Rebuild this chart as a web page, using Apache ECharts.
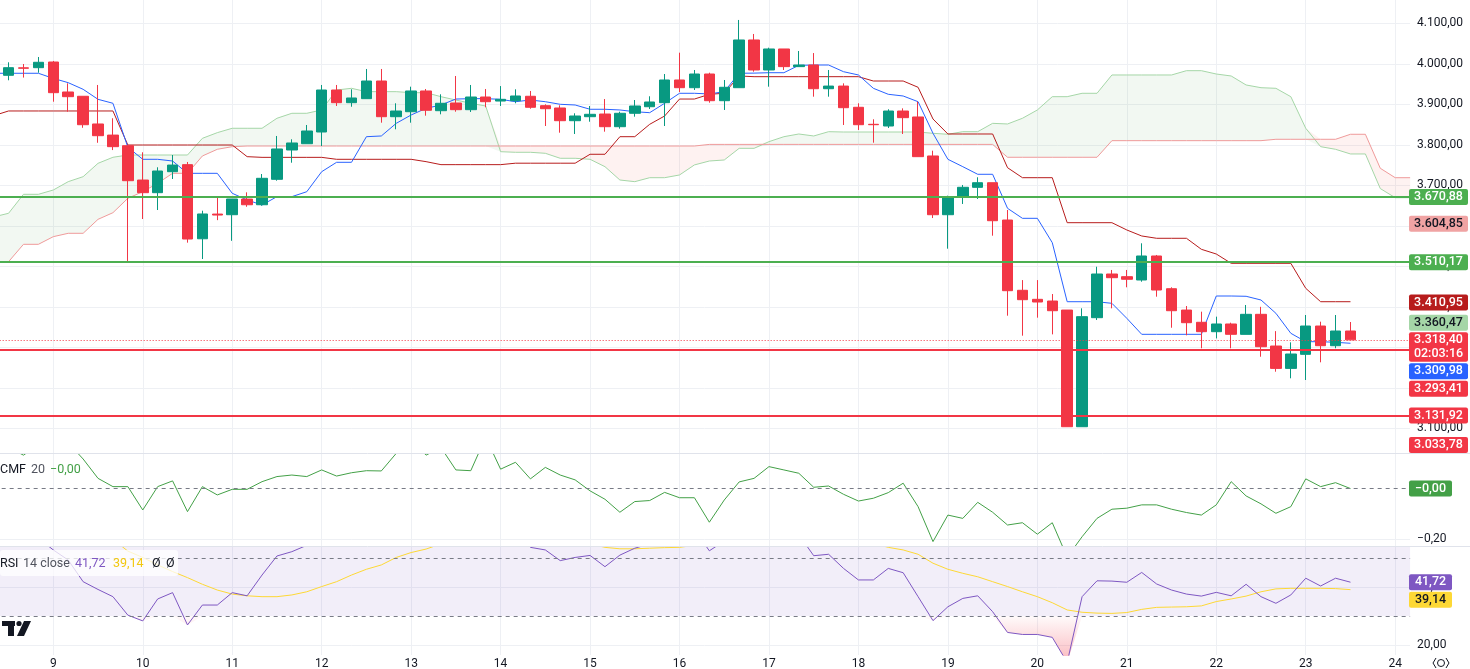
<!DOCTYPE html>
<html>
<head>
<meta charset="utf-8">
<script src="https://cdn.jsdelivr.net/npm/echarts@6/dist/echarts.min.js"></script>
<style>
html, body { margin: 0; padding: 0; background: #fff; }
#chart { width: 1470px; height: 669px; }
</style>
</head>
<body>
<div id="chart"></div>
<script>
// 4h candles, index k: k = 0 is day 9 00:00, 6 candles per day
const dayLabels = ['9', '10', '11', '12', '13', '14', '15', '16', '17', '18', '19', '20', '21', '22', '23', '24']
const perDay = 6

// candles from k = -3 to k = 87
const candleFirst = -3
const opens = [
  3971.6, 3990, 3990.4,
  4004.4, 3930.4, 3919.8, 3851.4, 3824, 3797.8,
  3713, 3681.8, 3733.6, 3751, 3568, 3629,
  3627.4, 3666, 3652, 3714.8, 3787.2, 3802.7,
  3831.6, 3935.3, 3904, 3913.9, 3957.5, 3869.4,
  3881.7, 3932.9, 3884.2, 3903.2, 3886.7, 3918,
  3908, 3908.9, 3919.8, 3896.6, 3890.9, 3859.5,
  3869.4, 3876, 3844.7, 3877.8, 3894, 3904,
  3960, 3941, 3974.8, 3908.9, 3941, 4058.8,
  3984.7, 4036.6, 3993, 3997, 3938.5, 3945,
  3892.6, 3850.6, 3846.4, 3883.4, 3868.7, 3772.4,
  3627.4, 3670.4, 3695, 3706.4, 3614.3, 3440.8,
  3418.5, 3414.3, 3392, 3104, 3373.2, 3481,
  3474.4, 3466.2, 3525.5, 3444.7, 3392, 3361.8,
  3338.6, 3357.6, 3332, 3381.5, 3303.2, 3248,
  3282.7, 3352.6, 3304, 3340.3
]
const closes = [
  3990.4, 3989, 4003.7,
  3928.7, 3918.8, 3849.6, 3822.5, 3795.4, 3711.4,
  3681.8, 3735.3, 3750, 3567.4, 3629.2, 3626.6,
  3666.2, 3652, 3717.3, 3789.7, 3804.5, 3834.1,
  3935.3, 3904, 3915.6, 3957.5, 3869.4, 3883.4,
  3932.9, 3885.2, 3902.5, 3886.7, 3918, 3906.4,
  3912.3, 3920.5, 3892.6, 3889.1, 3859.5, 3871.1,
  3875.3, 3844.7, 3877.8, 3895.8, 3905.7, 3960,
  3941, 3974.8, 3908.9, 3942, 4058.8, 3984.7,
  4036.6, 3993, 3997, 3938.5, 3945, 3891.6,
  3849.6, 3849.6, 3883.4, 3867, 3770.7, 3627.4,
  3672, 3695.1, 3706.4, 3612.6, 3439.8, 3417.6,
  3411.9, 3390.4, 3104, 3375.7, 3481, 3471.9,
  3468, 3525.5, 3441.5, 3390.4, 3360.8, 3338.6,
  3357.6, 3332.1, 3381.5, 3301.5, 3248, 3283.5,
  3352.6, 3304, 3340.3, 3318.4
]
const lows = [
  3959.3, 3966, 3978,
  3906.4, 3881.7, 3842, 3805, 3787, 3511.4,
  3616.8, 3639, 3715.6, 3558.4, 3518, 3614,
  3563, 3647, 3649.7, 3711.4, 3755.8, 3802.7,
  3797, 3895.8, 3894, 3913.9, 3854.6, 3838.3,
  3854.6, 3871.9, 3875.3, 3881.7, 3881, 3892.6,
  3895.8, 3902.5, 3889.1, 3846.4, 3829.9, 3826.7,
  3857, 3832.4, 3839.8, 3869.4, 3888.4, 3846.4,
  3930.4, 3935.3, 3904, 3886, 3941, 3980.5,
  3943.5, 3984.7, 3993, 3918.8, 3918.8, 3848.9,
  3836.6, 3805.2, 3841.5, 3826.7, 3770.7, 3619.2,
  3543.5, 3653.9, 3666.2, 3575.6, 3378.1, 3328.7,
  3373.2, 3332, 3104, 3104, 3367.4, 3396.3,
  3448.2, 3462, 3425, 3348.4, 3329.6, 3297.6,
  3322, 3297.6, 3332, 3276.8, 3239.8, 3223.5,
  3219.3, 3263, 3297.6, 3318.4
]
const highs = [
  4003.7, 3999.5, 4016.8,
  4007, 3951.8, 3919.8, 3947.7, 3865.5, 3797.8,
  3781.5, 3744.5, 3774.8, 3757.6, 3637.3, 3672,
  3666.2, 3682.7, 3727.9, 3821.8, 3813.6, 3848.9,
  3947.7, 3947.7, 3937, 3987.2, 3987.2, 3902.5,
  3943.5, 3937.8, 3924.7, 3969.9, 3947.7, 3937.8,
  3945, 3937, 3932.9, 3900, 3897.5, 3877.8,
  3895.8, 3913, 3881.7, 3910.6, 3919.8, 3974.8,
  4027.4, 3984.7, 3978, 3960, 4108.2, 4073.6,
  4039.8, 4036.6, 4031.6, 4026.5, 3984.7, 3951.8,
  3902.5, 3863, 3887.7, 3890, 3906.4, 3785.5,
  3674.4, 3700.8, 3719.8, 3706.4, 3639, 3466,
  3466, 3431.6, 3392, 3396.3, 3499, 3491,
  3491, 3556.8, 3528, 3448.2, 3402, 3388,
  3375.7, 3360.8, 3404.5, 3400, 3340, 3312.3,
  3379.8, 3363.3, 3379.8, 3362.5
]

// ichimoku lines, k = -4 .. 87
const lineFirst = -4
const tenkan = [
  3976.6, 3976.6, 3976.6, 3976.6,
  3964, 3953.4, 3937, 3912.3, 3902.5, 3794,
  3764.2, 3764.2, 3760, 3729.6, 3729.6, 3729.6,
  3680.3, 3663.8, 3651.4, 3672, 3672, 3684.2,
  3733.6, 3756.8, 3756.8, 3820, 3821.8, 3853,
  3873.6, 3890, 3898.3, 3913, 3913.9, 3913.9,
  3912.3, 3906.4, 3910.6, 3906.4, 3900, 3898.3,
  3887.7, 3887.7, 3886, 3881.7, 3879.3, 3902.5,
  3927.2, 3927.2, 3925.5, 3931.2, 3976.6, 3977,
  3978, 3978, 3996.2, 3997, 3997, 3980.5,
  3972.4, 3939.5, 3924.7, 3920.5, 3906.4, 3828.4,
  3764.2, 3746, 3727.2, 3727.2, 3643.2, 3618.5,
  3618.5, 3558.4, 3412.6, 3412.6, 3412.6, 3408.6,
  3371.6, 3332.1, 3332.1, 3332.1, 3332.1, 3332.1,
  3426.7, 3426.7, 3426, 3416.8, 3384, 3334.6,
  3313.9, 3313.9, 3312.4, 3310
]
const kijun = [
  3872, 3883.5, 3883.5, 3883.5,
  3883.5, 3883.5, 3883.5, 3883.5, 3883.5, 3799.5,
  3799.5, 3799.5, 3799.5, 3799.5, 3799.5, 3799.5,
  3799.5, 3770.7, 3769, 3769, 3769, 3769,
  3769, 3764.2, 3764.2, 3764.2, 3764.2, 3764.2,
  3764.2, 3758.4, 3751, 3751, 3751, 3751,
  3751, 3754.6, 3754.6, 3754.6, 3754.6, 3754.6,
  3776.6, 3776.6, 3820, 3820, 3850.6, 3871.1,
  3913, 3913, 3924.7, 3927.2, 3969.9, 3968.2,
  3968.2, 3968.2, 3968.2, 3968.2, 3968.2, 3968.2,
  3968.2, 3957.5, 3957.5, 3957.5, 3942, 3863.7,
  3826.7, 3826.7, 3826.7, 3826.7, 3743.5, 3718.8,
  3718.8, 3718.8, 3607.7, 3607.7, 3607.7, 3607.7,
  3589.7, 3574.9, 3569.2, 3569.2, 3569.2, 3542,
  3530.4, 3507.4, 3507.4, 3507.4, 3507.4, 3507.4,
  3445.7, 3412.6, 3412.6, 3412.6
]
// cloud spans, k = -4 .. 91
const spanA = [
  3622, 3630.9, 3677.8, 3677.8,
  3688.4, 3709, 3721.3, 3754.3, 3769.2, 3774.8,
  3774.8, 3774.8, 3774.8, 3774.8, 3816, 3830,
  3840.8, 3840.8, 3840.8, 3865.5, 3877.8, 3877.8,
  3886, 3935.3, 3939.5, 3931.2, 3931.2, 3931.2,
  3928.7, 3928.7, 3918.8, 3910.6, 3902.5, 3895.8,
  3783, 3781.5, 3781.5, 3779, 3766.7, 3766.7,
  3764.2, 3746, 3713.1, 3709, 3718.8, 3718.8,
  3725.5, 3750.3, 3760, 3762.5, 3791.3, 3791.3,
  3807.8, 3820, 3826.7, 3821.8, 3832.4, 3831.6,
  3831.6, 3831.6, 3831.6, 3831.6, 3831.6, 3828.4,
  3826, 3832.4, 3832.4, 3853, 3851.4, 3865.5,
  3886, 3918.8, 3918.8, 3927.2, 3927.2, 3972.4,
  3972.4, 3972.4, 3972.4, 3972.4, 3983, 3983,
  3974.8, 3969.9, 3947.7, 3941, 3939.5, 3918.8,
  3840.8, 3795.4, 3788.9, 3777.4, 3777.4, 3692,
  3669.4, 3669.4
]
const spanB = [
  3511, 3511.4, 3554.3, 3554.3,
  3573.2, 3581.5, 3581.5, 3616, 3632.4, 3667.9,
  3684.2, 3705, 3729.6, 3729.6, 3772.4, 3788.9,
  3795.4, 3797, 3797, 3797, 3797, 3797,
  3797, 3797, 3797, 3797, 3797, 3797,
  3797, 3797, 3797, 3797, 3797, 3797,
  3797, 3797, 3797, 3797, 3797, 3797,
  3797, 3797, 3797, 3797, 3797, 3797,
  3797, 3797, 3801, 3801, 3801, 3801,
  3801, 3801, 3801, 3801, 3801, 3801,
  3801, 3801, 3801, 3801, 3801, 3801,
  3801, 3801, 3801, 3801, 3769.2, 3769.2,
  3769.2, 3769.2, 3769.2, 3769.2, 3769.2, 3810.2,
  3810.2, 3810.2, 3810.2, 3810.2, 3810.2, 3810.2,
  3810.2, 3810.2, 3810.2, 3810.2, 3813.6, 3813.6,
  3813.6, 3813.6, 3813.6, 3826, 3826, 3742,
  3718.8, 3718.8
]

// oscillators, k = -4 .. 87
const cmf = [
  0.15, 0.16, 0.13, 0.17,
  0.2, 0.178, 0.115, 0.039, 0.0065, 0.0065,
  -0.085, 0.0065, 0.029, -0.0915, 0.0065, -0.026,
  -0.004, -0.004, 0.026, 0.046, 0.052, 0.046,
  0.072, 0.048, 0.061, 0.069, 0.068, 0.137,
  0.19, 0.13, 0.16, 0.072, 0.069, 0.2,
  0.075, 0.102, 0.037, 0.082, 0.052, 0.033,
  -0.01, -0.043, -0.094, -0.052, -0.048, -0.016,
  -0.037, -0.037, -0.133, -0.046, 0.025, 0.039,
  0.085, 0.072, 0.059, 0.004, 0.009, -0.0235,
  -0.05, -0.039, -0.017, 0.02, -0.072, -0.209,
  -0.105, -0.118, -0.055, -0.094, -0.144, -0.135,
  -0.18, -0.135, -0.27, -0.19, -0.118, -0.082,
  -0.078, -0.065, -0.065, -0.082, -0.095, -0.105,
  -0.065, 0.026, -0.03, -0.061, -0.098, -0.072,
  0.037, 0.0065, 0.022, -0.001
]
const rsi = [
  56, 57, 58, 57,
  52.9, 49.4, 41.9, 39.2, 36.7, 30.3,
  28.3, 35.9, 38.1, 26.9, 33.8, 33.8,
  38.1, 37, 44.2, 50.8, 52.3, 54.5,
  62, 60, 61, 64, 57, 58,
  62, 58, 59, 57, 60, 58,
  58, 59, 53.8, 52.9, 49.2, 50.3,
  51, 47.1, 51.1, 53.5, 55, 60,
  57, 60, 52.6, 56, 65, 59,
  63, 58, 58.2, 50.9, 51.4, 46.5,
  42.5, 42.5, 46.5, 45, 36.7, 28.4,
  33.2, 36.1, 37, 31.5, 24.3, 23.6,
  23.6, 22.6, 13.9, 36.7, 42.2, 42.1,
  41.7, 45.1, 41.1, 39, 37.6, 36.9,
  38.2, 37, 41, 36.7, 34.4, 37.3,
  43.1, 40.4, 43.1, 41.72
]
const rsiMa = [
  60, 60.5, 61, 61.5,
  61.5, 61, 60, 58.5, 56.6, 52.5,
  50.3, 47.7, 45.4, 43.3, 41, 39,
  37.6, 37, 36.7, 36.7, 37.3, 38.4,
  40.2, 41.9, 44.2, 46.2, 47.7, 50.3,
  52, 53.2, 55, 56.3, 57, 57.5,
  58, 58.2, 58, 57.5, 57, 56,
  55, 53.8, 53.3, 53.3, 53.5, 53.7,
  53.8, 54.5, 55.2, 55.6, 56.3, 56.8,
  57.2, 57.4, 57.5, 57.3, 57, 56.6,
  56, 55.2, 53.8, 52.9, 51.4, 48.3,
  46.2, 44.8, 43.6, 41.9, 40.2, 38.4,
  36.7, 34.6, 32.1, 31.3, 31, 30.9,
  31.2, 32.3, 33, 33.1, 33.2, 33.5,
  35, 35.9, 36.9, 38.4, 39.4, 39.6,
  39.6, 39.6, 39.5, 39.14
]

// horizontal levels drawn on the price pane
const supportLevels = [3670.88, 3510.17]
const resistLevels = [3293.41, 3131.92]
const lastPrice = 3318.40
const countdown = '02:03:16'
const tenkanLast = 3309.98
const kijunLast = 3410.95
const spanALast = 3360.47
const spanBLast = 3604.85
const offLevel = 3033.78
const cmfLast = -0.001
const priceTicks = [3100, 3200, 3300, 3400, 3500, 3600, 3700, 3800, 3900, 4000, 4100]
const cmfTicks = [-0.2]
const rsiTicks = [20, 40]

const UP = '#089981', DOWN = '#f23645', GRIDC = '#eef0f4', TXT = '#131722', SUB = '#50535e'
const FONT = 'Roboto, "Noto Sans", sans-serif'
const GL = -6.34, GW = 1416.45
const P_MIN = 3039.1, P_MAX = 4157.5
const C_MIN = -0.2263, C_MAX = 0.1345
const R_MIN = 16.48, R_MAX = 53.92

const cats = []
for (let k = -4; k <= 91; k++) cats.push(k)
const pick = (arr, first) => cats.map(k => {
  const i = k - first
  return i >= 0 && i < arr.length ? arr[i] : '-'
})

const candleData = cats.map(k => {
  const i = k - candleFirst
  if (i < 0 || i >= opens.length) return '-'
  return [opens[i], closes[i], lows[i], highs[i]]
})
const aData = pick(spanA, lineFirst), bData = pick(spanB, lineFirst)
const cloudBase = aData.map((a, i) => Math.min(a, bData[i]))
const cloudUp = aData.map((a, i) => Math.max(a - bData[i], 0))
const cloudDown = aData.map((a, i) => Math.max(bData[i] - a, 0))
const rsiData = pick(rsi, lineFirst)
const osBase = rsiData.map(v => v === '-' ? '-' : Math.min(v, 30))
const osFill = osBase.map(v => v === '-' ? '-' : 30 - v)

function fmt(v, d) {
  const neg = v < 0 || Object.is(v, -0)
  let [a, b] = Math.abs(v).toFixed(d).split('.')
  a = a.replace(/\B(?=(\d{3})+(?!\d))/g, '.')
  return (neg ? '\u2212' : '') + a + (b ? ',' + b : '')
}

const isDay = (i, v) => Number(v) % perDay === 0
function xAxisFor(g, withLabels) {
  return {
    type: 'category', gridIndex: g, data: cats, boundaryGap: false,
    axisLine: { show: false }, axisTick: { show: false },
    axisLabel: withLabels ? {
      show: true, interval: isDay, margin: 3,
      formatter: v => dayLabels[Number(v) / perDay],
      color: TXT, fontSize: 12, fontFamily: FONT
    } : { show: false },
    splitLine: { show: true, interval: isDay, lineStyle: { color: GRIDC, width: 1 } }
  }
}
function yAxisFor(g, min, max, ticks, dec) {
  return {
    type: 'value', gridIndex: g, position: 'right', min, max, scale: true,
    axisLine: { show: false },
    axisTick: { show: false, customValues: ticks },
    axisLabel: { customValues: ticks, formatter: v => fmt(v, dec), color: TXT, fontSize: 12, fontFamily: FONT, margin: 7, align: 'left' },
    splitLine: { show: true, lineStyle: { color: GRIDC, width: 1 } }
  }
}
const line = (x, data, color, z, extra) => Object.assign({
  type: 'line', xAxisIndex: x, yAxisIndex: x, data, symbol: 'none', silent: true,
  lineStyle: { color, width: 1 }, z
}, extra || {})

const chart = echarts.init(document.getElementById('chart'))
chart.setOption({
  animation: false,
  backgroundColor: '#fff',
  grid: [
    { left: GL, width: GW, top: 0, height: 453, outerBoundsMode: 'none' },
    { left: GL, width: GW, top: 454, height: 92, outerBoundsMode: 'none' },
    { left: GL, width: GW, top: 547, height: 108, outerBoundsMode: 'none' }
  ],
  xAxis: [xAxisFor(0, false), xAxisFor(1, false), xAxisFor(2, true)],
  yAxis: [
    yAxisFor(0, P_MIN, P_MAX, priceTicks, 2),
    yAxisFor(1, C_MIN, C_MAX, cmfTicks, 2),
    yAxisFor(2, R_MIN, R_MAX, rsiTicks, 2)
  ],
  series: [
    line(0, cloudBase, 'transparent', 1, { stack: 'cloud', lineStyle: { opacity: 0 } }),
    line(0, cloudUp, 'transparent', 1, { stack: 'cloud', lineStyle: { opacity: 0 }, areaStyle: { color: 'rgba(67,160,71,0.1)' } }),
    line(0, cloudDown, 'transparent', 1, { stack: 'cloud', lineStyle: { opacity: 0 }, areaStyle: { color: 'rgba(244,67,54,0.1)' } }),
    line(0, aData, '#a5d6a7', 2),
    line(0, bData, '#ef9a9a', 2),
    line(0, pick(kijun, lineFirst), '#b71c1c', 3),
    line(0, pick(tenkan, lineFirst), '#2962ff', 3),
    {
      type: 'candlestick', xAxisIndex: 0, yAxisIndex: 0, data: candleData, barWidth: 11, silent: true, z: 4,
      itemStyle: { color: UP, color0: DOWN, borderColor: UP, borderColor0: DOWN, borderWidth: 1 },
      markLine: {
        symbol: ['none', 'none'], silent: true, label: { show: false }, animation: false,
        data: [
          ...supportLevels.map(v => ({ yAxis: v, lineStyle: { color: '#4caf50', width: 2, type: 'solid' } })),
          ...resistLevels.map(v => ({ yAxis: v, lineStyle: { color: DOWN, width: 2, type: 'solid' } })),
          { yAxis: lastPrice, lineStyle: { color: DOWN, width: 1, type: [1, 2] } }
        ]
      }
    },
    line(1, pick(cmf, lineFirst), '#43a047', 3, {
      markLine: { symbol: ['none', 'none'], silent: true, label: { show: false },
        lineStyle: { color: '#787b86', width: 1, type: [4, 4] }, data: [{ yAxis: 0 }] }
    }),
    line(2, osBase, 'transparent', 1, {
      stack: 'os', lineStyle: { opacity: 0 },
      markArea: { silent: true, itemStyle: { color: 'rgba(126,87,194,0.1)' }, data: [[{ yAxis: 30 }, { yAxis: R_MAX }]] },
      markLine: { symbol: ['none', 'none'], silent: true, label: { show: false },
        lineStyle: { color: '#787b86', width: 1, type: [4, 4] }, data: [{ yAxis: 50 }, { yAxis: 30 }] }
    }),
    line(2, osFill, 'transparent', 1, {
      stack: 'os', lineStyle: { opacity: 0 },
      areaStyle: { color: new echarts.graphic.LinearGradient(0, 0, 0, 1, [
        { offset: 0, color: 'rgba(242,54,69,0.03)' },
        { offset: 1, color: 'rgba(242,54,69,0.5)' }
      ]) }
    }),
    line(2, pick(rsiMa, lineFirst), '#fdd835', 3),
    line(2, rsiData, '#7e57c2', 4)
  ]
})

// price-scale tags, pushed apart so they never overlap
function tags(axis, list, top, bottom) {
  list.forEach(t => { t.y = chart.convertToPixel({ yAxisIndex: axis }, t.v); t.h = t.sub ? 29.5 : 16 })
  list.sort((a, b) => a.y - b.y)
  let prev = top - 1.5
  list.forEach(t => { t.top = Math.max(t.y - 8, prev + 1.5); prev = t.top + t.h })
  for (let i = list.length - 1; i >= 0; i--) {
    const lim = i === list.length - 1 ? bottom : list[i + 1].top - 1.5
    if (list[i].top + list[i].h > lim) list[i].top = lim - list[i].h
  }
  const out = []
  const font = '500 12.5px ' + FONT
  list.forEach(t => {
    out.push({ type: 'rect', z: 100, shape: { x: 1409, y: t.top, width: t.w, height: t.h, r: 2 }, style: { fill: t.bg } })
    const cx = 1409 + t.w / 2
    out.push({ type: 'text', z: 101, x: cx, y: t.top + 8, style: { text: t.text, fill: t.fg, font, align: 'center', verticalAlign: 'middle', textAlign: 'center', textVerticalAlign: 'middle' } })
    if (t.sub) out.push({ type: 'text', z: 101, x: cx, y: t.top + 21.5, style: { text: t.sub, fill: t.fg, font, align: 'center', verticalAlign: 'middle', textAlign: 'center', textVerticalAlign: 'middle' } })
  })
  return out
}
const W = '#ffffff'
const priceTags = tags(0, [
  { v: supportLevels[0], bg: '#4caf50', fg: W },
  { v: spanBLast, bg: '#f0a3a3', fg: TXT },
  { v: supportLevels[1], bg: '#4caf50', fg: W },
  { v: kijunLast, bg: '#b71c1c', fg: W },
  { v: spanALast, bg: '#a5d6a7', fg: TXT },
  { v: lastPrice, bg: DOWN, fg: W, sub: countdown },
  { v: tenkanLast, bg: '#2962ff', fg: W },
  { v: resistLevels[0], bg: DOWN, fg: W },
  { v: resistLevels[1], bg: DOWN, fg: W },
  { v: offLevel, bg: DOWN, fg: W }
].map(t => Object.assign(t, { w: 59, text: fmt(t.v, 2) })), 0, 453)
const cmfTags = tags(1, [{ v: cmfLast, bg: '#43a047', fg: W, w: 43, text: fmt(cmfLast, 2) }], 454, 546)
const rsiTags = tags(2, [
  { v: rsi[rsi.length - 1], bg: '#7e57c2', fg: W, w: 43, text: fmt(rsi[rsi.length - 1], 2) },
  { v: rsiMa[rsiMa.length - 1], bg: '#fdd835', fg: TXT, w: 43, text: fmt(rsiMa[rsiMa.length - 1], 2) }
], 547, 655)

const txt = (x, y, text, fill) => ({ type: 'text', z: 102, x, y, style: { text, fill, font: '12.5px ' + FONT, verticalAlign: 'middle', textVerticalAlign: 'middle' } })
const sep = y => ({ type: 'line', z: 50, shape: { x1: 0, y1: y, x2: 1470, y2: y }, style: { stroke: '#e0e3eb', lineWidth: 1 } })

chart.setOption({
  graphic: [
    sep(453.5), sep(546.5),
    ...priceTags, ...cmfTags, ...rsiTags,
    txt(0, 470, 'CMF', TXT), txt(31, 470, '20', SUB), txt(50, 470, fmt(cmfLast, 2), '#43a047'),
    { type: 'rect', z: 101, shape: { x: 0, y: 550, width: 178, height: 26, r: 3 }, style: { fill: 'rgba(255,255,255,0.75)' } },
    txt(0, 564, 'RSI', TXT), txt(23, 564, '14 close', SUB), txt(75, 564, fmt(rsi[rsi.length - 1], 2), '#7e57c2'),
    txt(113, 564, fmt(rsiMa[rsiMa.length - 1], 2), '#f2c811'), txt(152, 564, '\u00d8', TXT), txt(166, 564, '\u00d8', TXT),
    // logo
    { type: 'rect', z: 102, shape: { x: 2, y: 621, width: 13, height: 5 }, style: { fill: TXT } },
    { type: 'rect', z: 102, shape: { x: 8, y: 621, width: 6, height: 15 }, style: { fill: TXT } },
    { type: 'circle', z: 102, shape: { cx: 19, cy: 623.5, r: 2.6 }, style: { fill: TXT } },
    { type: 'polygon', z: 102, shape: { points: [[24, 621], [31, 621], [24, 636], [17, 636]] }, style: { fill: TXT } },
    // settings glyph in the corner
    { type: 'circle', z: 102, shape: { cx: 1441, cy: 663, r: 3.5 }, style: { fill: 'none', stroke: TXT, lineWidth: 1 } },
    { type: 'polyline', z: 102, shape: { points: [[1436, 658], [1433, 663], [1436, 668]] }, style: { fill: 'none', stroke: TXT, lineWidth: 1 } },
    { type: 'polyline', z: 102, shape: { points: [[1446, 658], [1449, 663], [1446, 668]] }, style: { fill: 'none', stroke: TXT, lineWidth: 1 } }
  ]
})
</script>
</body>
</html>
